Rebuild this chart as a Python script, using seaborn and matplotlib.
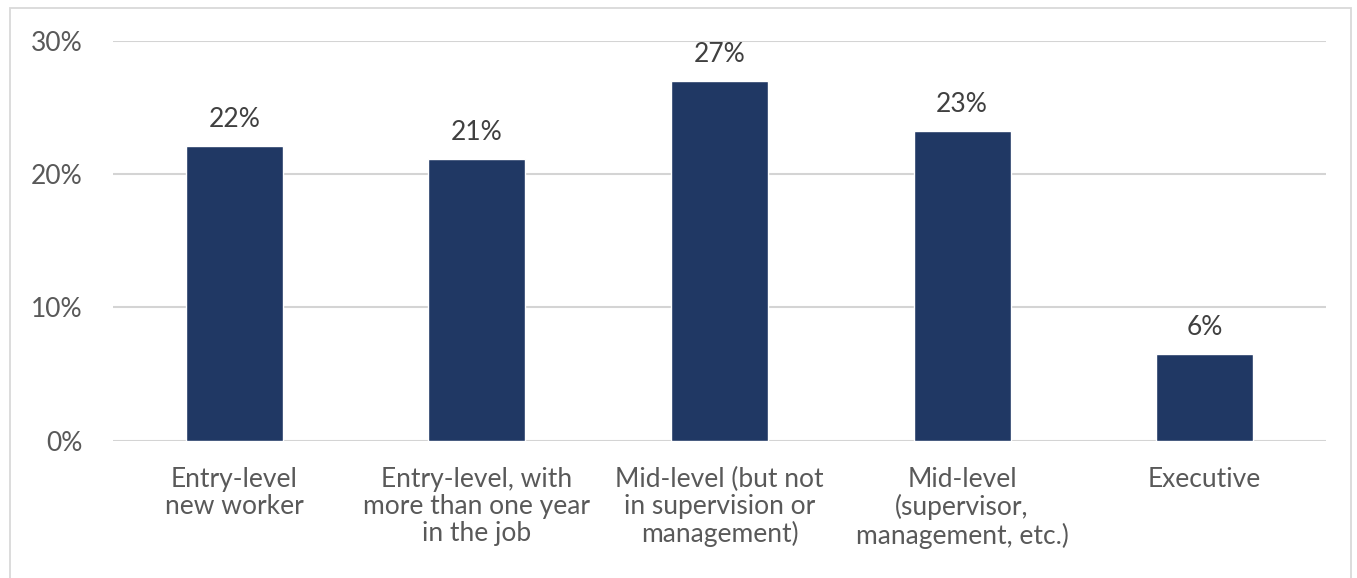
import matplotlib
matplotlib.use("Agg")
import matplotlib.pyplot as plt
from matplotlib.patches import Rectangle
from matplotlib.ticker import FuncFormatter
import seaborn as sns
import pandas as pd

# Share of respondents by current job level
categories = [
    "Entry-level\nnew worker",
    "Entry-level, with\nmore than one year\nin the job",
    "Mid-level (but not\nin supervision or\nmanagement)",
    "Mid-level\n(supervisor,\nmanagement, etc.)",
    "Executive",
]
shares = [22.1, 21.1, 27.0, 23.2, 6.5]
y_ticks = [0, 10, 20, 30]

df = pd.DataFrame({"level": categories, "share": shares})

sns.set_theme(style="white")
plt.rcParams["font.family"] = ["Lato", "DejaVu Sans"]

W, H, DPI = 1357, 578, 100
fig = plt.figure(figsize=(W / DPI, H / DPI), dpi=DPI)
fig.patch.set_facecolor("white")

# light frame around the chart
frame = Rectangle((10 / W, -0.05), (1351 - 10) / W, (H - 8) / H + 0.05,
                  transform=fig.transFigure, fill=False,
                  edgecolor="#d9d9d9", linewidth=1.3, zorder=0)
fig.patches.append(frame)

ax = fig.add_axes([113 / W, (H - 440.7) / H, (1326 - 113) / W, 400 / H])

bar_color = "#203864"
sns.barplot(data=df, x="level", y="share", color=bar_color, width=0.4,
            saturation=1, ax=ax, zorder=3)

ax.set_xlim(-0.5, len(categories) - 0.5)
ax.set_ylim(0, 30)
ax.set_yticks(y_ticks)
ax.yaxis.set_major_formatter(FuncFormatter(lambda v, _: f"{v:.0f}%"))
ax.grid(axis="y", color="#d4d4d4", linewidth=1.5, zorder=0)
ax.grid(axis="x", visible=False)
for side in ax.spines.values():
    side.set_visible(False)

ax.set_xlabel("")
ax.set_ylabel("")
ax.tick_params(axis="y", length=0, pad=22, labelsize=19, labelcolor="#595959")
ax.tick_params(axis="x", length=0, pad=19, labelsize=19, labelcolor="#595959")
for lbl in ax.get_xticklabels():
    lbl.set_linespacing(1.1)

# value labels above each bar
for i, v in enumerate(shares):
    ax.annotate(f"{v:.0f}%", (i, v), xytext=(0, 10), textcoords="offset points",
                ha="center", va="bottom", fontsize=19, color="#404040")

fig.savefig("out.png", dpi=DPI, facecolor="white")
